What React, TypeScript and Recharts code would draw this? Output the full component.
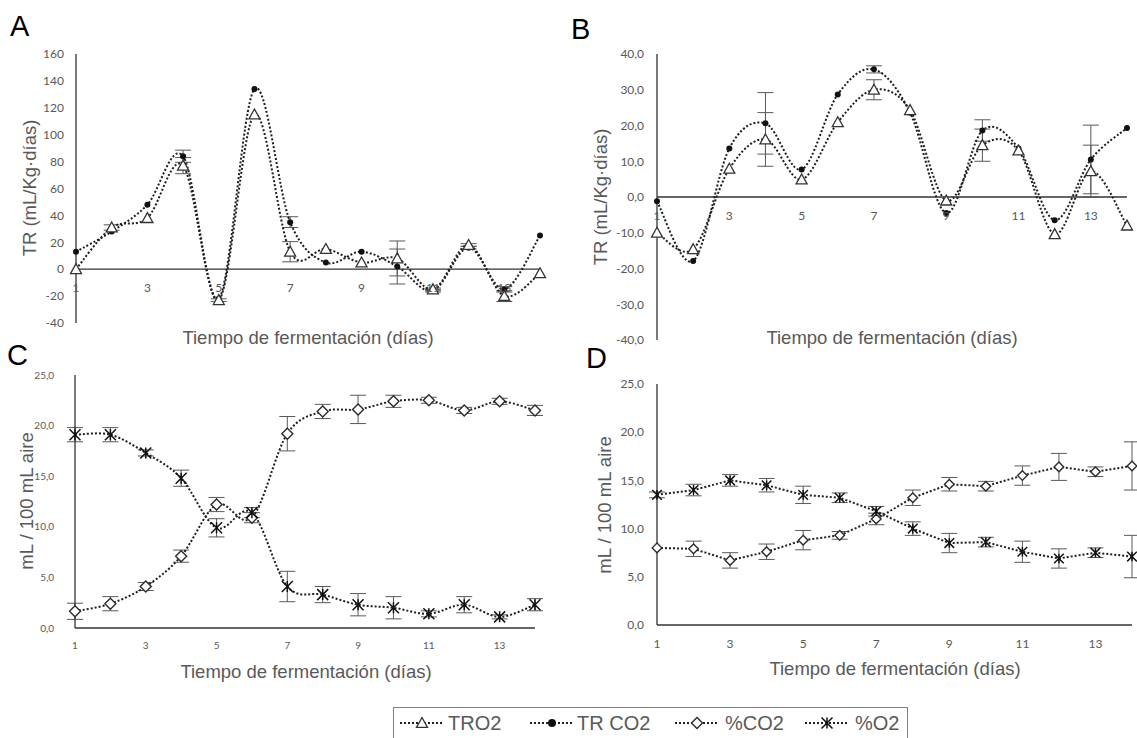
import React from "react";
import { LineChart, Line, XAxis, YAxis, ErrorBar, ReferenceLine, ReferenceDot } from "recharts";

const days = [1, 2, 3, 4, 5, 6, 7, 8, 9, 10, 11, 12, 13, 14];
const oddDays = [1, 3, 5, 7, 9, 11, 13];

// A: respiration rate, sample 1
const aTro2 = [0, 31, 38, 77, -23, 115, 13, 15, 5, 8, -15, 18, -20, -3];
const aTro2Err = [0, 2, 0, 6, 1, 0, 7.5, 0, 0, 13, 1, 1, 4, 0];
const aTrCo2 = [13, 28, 48, 84, -22, 134, 35, 5, 13, 2, -16, 16, -15, 25];
const aTrCo2Err = [0, 0, 0, 4.5, 0, 0, 4, 0, 0, 13, 1, 1, 2, 0];
const aTicks = [-40, -20, 0, 20, 40, 60, 80, 100, 120, 140, 160];

// B: respiration rate, sample 2
const bTro2 = [-10, -14.6, 7.9, 16.1, 4.9, 20.9, 30, 24.3, -1, 14.5, 13, -10.4, 7.2, -8];
const bTro2Err = [0, 0, 0, 7.5, 0, 0, 2.8, 0, 0, 4.5, 0, 0, 7.3, 0];
const bTrCo2 = [-1.2, -17.9, 13.6, 20.6, 7.7, 28.7, 35.7, 23.6, -4.5, 18.6, 13.6, -6.5, 10.5, 19.3];
const bTrCo2Err = [0, 0, 0, 8.6, 0, 0, 1, 0, 0, 3, 0, 0, 9.6, 0];
const bTicks = [-40, -30, -20, -10, 0, 10, 20, 30, 40];

// C: headspace gas, sample 1
const cCo2 = [1.65, 2.4, 4.1, 7.1, 12.2, 10.9, 19.2, 21.4, 21.6, 22.4, 22.5, 21.5, 22.4, 21.5];
const cCo2Err = [0.8, 0.7, 0.4, 0.6, 0.7, 0.5, 1.7, 0.7, 1.4, 0.6, 0.3, 0.3, 0.3, 0.5];
const cO2 = [19.1, 19.1, 17.3, 14.8, 9.9, 11.4, 4.1, 3.3, 2.3, 2.0, 1.4, 2.3, 1.1, 2.3];
const cO2Err = [0.7, 0.7, 0.3, 0.8, 0.9, 0.5, 1.5, 0.8, 1.1, 1.1, 0.3, 0.8, 0.2, 0.6];

// D: headspace gas, sample 2
const dCo2 = [8.0, 7.9, 6.7, 7.6, 8.8, 9.3, 11.0, 13.2, 14.6, 14.4, 15.5, 16.4, 15.9, 16.5];
const dCo2Err = [0, 0.8, 0.8, 0.8, 1.0, 0.4, 0.6, 0.8, 0.7, 0.5, 1.0, 1.4, 0.5, 2.5];
const dO2 = [13.5, 14.0, 15.0, 14.5, 13.5, 13.2, 11.8, 10.0, 8.5, 8.6, 7.6, 6.9, 7.5, 7.1];
const dO2Err = [0.3, 0.6, 0.6, 0.7, 0.9, 0.5, 0.5, 0.7, 1.0, 0.5, 1.1, 1.0, 0.5, 2.2];
const gasTicks = [0, 5, 10, 15, 20, 25];

const INK = "#1f1f1f";
const GREY = "#595959";
const TICK_FONT = "Lato, 'Open Sans', sans-serif";
const TITLE_FONT = "'Liberation Sans', Arial, sans-serif";

const comma = (v: number) => v.toFixed(1).replace(".", ",");

// Excel-style smoothed line (cardinal spline through the points)
const excelSmooth = (context: any) => {
  let pts: number[][] = [];
  return {
    areaStart() {},
    areaEnd() {},
    lineStart() {
      pts = [];
    },
    point(x: number, y: number) {
      pts.push([+x, +y]);
    },
    lineEnd() {
      if (!pts.length) return;
      context.moveTo(pts[0][0], pts[0][1]);
      for (let i = 0; i < pts.length - 1; i++) {
        const p0 = pts[i - 1] || pts[i];
        const p1 = pts[i];
        const p2 = pts[i + 1];
        const p3 = pts[i + 2] || p2;
        context.bezierCurveTo(
          p1[0] + (p2[0] - p0[0]) / 6,
          p1[1] + (p2[1] - p0[1]) / 6,
          p2[0] - (p3[0] - p1[0]) / 6,
          p2[1] - (p3[1] - p1[1]) / 6,
          p2[0],
          p2[1]
        );
      }
    },
  };
};

function TriangleDot(props: any) {
  const { cx, cy, s = 5.5 } = props;
  if (cx == null || cy == null) return null;
  return (
    <path
      d={`M${cx},${cy - s}L${cx + s},${cy + s * 0.8}L${cx - s},${cy + s * 0.8}Z`}
      fill="#fff"
      stroke="#333"
      strokeWidth={1.3}
    />
  );
}

function CircleDot(props: any) {
  const { cx, cy, r = 4 } = props;
  if (cx == null || cy == null) return null;
  return <circle cx={cx} cy={cy} r={r} fill="#111" />;
}

function DiamondDot(props: any) {
  const { cx, cy, s = 5.5 } = props;
  if (cx == null || cy == null) return null;
  return (
    <path
      d={`M${cx},${cy - s}L${cx + s},${cy}L${cx},${cy + s}L${cx - s},${cy}Z`}
      fill="#fff"
      stroke="#2b2b2b"
      strokeWidth={1.4}
    />
  );
}

function StarDot(props: any) {
  const { cx, cy, s = 5.5 } = props;
  if (cx == null || cy == null) return null;
  return (
    <path
      d={`M${cx - s},${cy - s}L${cx + s},${cy + s}M${cx + s},${cy - s}L${cx - s},${cy + s}M${cx},${cy - s}L${cx},${cy + s}`}
      stroke="#111"
      strokeWidth={1.5}
      fill="none"
    />
  );
}

const dotted = { stroke: INK, strokeWidth: 2, strokeDasharray: "2 2" };

interface TrProps {
  tro2: number[];
  tro2Err: number[];
  trCo2: number[];
  trCo2Err: number[];
  domain: [number, number];
  ticks: number[];
  fmt?: (v: number) => string;
  width: number;
  height: number;
  margin: { top: number; right: number; bottom: number; left: number };
  tickMargin: number;
}

function TrChart(p: TrProps) {
  const rows = days.map((d, i) => ({
    day: d,
    tro2: p.tro2[i],
    tro2Err: p.tro2Err[i],
    trCo2: p.trCo2[i],
    trCo2Err: p.trCo2Err[i],
  }));
  return (
    <LineChart width={p.width} height={p.height} data={rows} margin={p.margin}>
      <XAxis dataKey="day" type="number" domain={[1, 14]} hide />
      <YAxis
        type="number"
        domain={p.domain}
        ticks={p.ticks}
        interval={0}
        width={40}
        tickFormatter={p.fmt}
        axisLine={{ stroke: "#333", strokeWidth: 1.3 }}
        tickLine={false}
        tickMargin={p.tickMargin}
        tick={{ fill: GREY, fontSize: 12, fontFamily: TICK_FONT }}
      />
      <ReferenceLine y={0} stroke="#333" strokeWidth={1.3} />
      {oddDays.map((d) => (
        <ReferenceDot
          key={d}
          x={d}
          y={0}
          r={0}
          fill="none"
          stroke="none"
          label={{ value: String(d), position: "bottom", offset: 14, fill: GREY, fontSize: 12, fontFamily: TICK_FONT }}
        />
      ))}
      <Line dataKey="trCo2" type={excelSmooth as any} {...dotted} dot={<CircleDot />} activeDot={false} isAnimationActive={false}>
        <ErrorBar dataKey="trCo2Err" width={8} stroke={GREY} strokeWidth={1} direction="y" />
      </Line>
      <Line dataKey="tro2" type={excelSmooth as any} {...dotted} dot={<TriangleDot />} activeDot={false} isAnimationActive={false}>
        <ErrorBar dataKey="tro2Err" width={8} stroke={GREY} strokeWidth={1} direction="y" />
      </Line>
    </LineChart>
  );
}

interface GasProps {
  co2: number[];
  co2Err: number[];
  o2: number[];
  o2Err: number[];
  width: number;
  height: number;
  margin: { top: number; right: number; bottom: number; left: number };
  tickMargin: number;
  fontSize: number;
  smooth: boolean;
  markSize: number;
}

function GasChart(p: GasProps) {
  const rows = days.map((d, i) => ({
    day: d,
    co2: p.co2[i],
    co2Err: p.co2Err[i],
    o2: p.o2[i],
    o2Err: p.o2Err[i],
  }));
  const curve = p.smooth ? (excelSmooth as any) : "linear";
  return (
    <LineChart width={p.width} height={p.height} data={rows} margin={p.margin}>
      <XAxis
        dataKey="day"
        type="number"
        domain={[1, 14]}
        ticks={oddDays}
        interval={0}
        height={30}
        axisLine={{ stroke: "#333", strokeWidth: 1.3 }}
        tickLine={false}
        tickMargin={8}
        tick={{ fill: GREY, fontSize: p.fontSize, fontFamily: TICK_FONT }}
      />
      <YAxis
        type="number"
        domain={[0, 25]}
        ticks={gasTicks}
        interval={0}
        width={40}
        tickFormatter={comma}
        axisLine={{ stroke: "#333", strokeWidth: 1.3 }}
        tickLine={false}
        tickMargin={p.tickMargin}
        tick={{ fill: GREY, fontSize: p.fontSize, fontFamily: TICK_FONT }}
      />
      <Line dataKey="co2" type={curve} {...dotted} dot={<DiamondDot s={p.markSize} />} activeDot={false} isAnimationActive={false}>
        <ErrorBar dataKey="co2Err" width={8} stroke={GREY} strokeWidth={1} direction="y" />
      </Line>
      <Line dataKey="o2" type={curve} {...dotted} dot={<StarDot s={p.markSize} />} activeDot={false} isAnimationActive={false}>
        <ErrorBar dataKey="o2Err" width={8} stroke={GREY} strokeWidth={1} direction="y" />
      </Line>
    </LineChart>
  );
}

const legendItems = [
  { name: "TRO2", cx: 422, tx: 448, Mark: TriangleDot },
  { name: "TR CO2", cx: 552, tx: 577, Mark: CircleDot },
  { name: "%CO2", cx: 697, tx: 725, Mark: DiamondDot },
  { name: "%O2", cx: 827, tx: 855, Mark: StarDot },
];

const xTitle = "Tiempo de fermentación (días)";

export default function App() {
  const abs = (left: number, top: number): React.CSSProperties => ({ position: "absolute", left, top });
  const titleStyle = { fontFamily: TITLE_FONT, fontSize: 18.5, fill: GREY };
  return (
    <div style={{ position: "fixed", left: 0, top: 0, width: 1137, height: 738, background: "#fff", overflow: "hidden" }}>
      <div style={abs(0, 0)}>
        <TrChart
          tro2={aTro2}
          tro2Err={aTro2Err}
          trCo2={aTrCo2}
          trCo2Err={aTrCo2Err}
          domain={[-40, 160]}
          ticks={aTicks}
          width={560}
          height={340}
          margin={{ top: 54, right: 20, bottom: 17, left: 36 }}
          tickMargin={6}
        />
      </div>
      <div style={abs(560, 0)}>
        <TrChart
          tro2={bTro2}
          tro2Err={bTro2Err}
          trCo2={bTrCo2}
          trCo2Err={bTrCo2Err}
          domain={[-40, 40]}
          ticks={bTicks}
          fmt={comma}
          width={577}
          height={352}
          margin={{ top: 54, right: 10, bottom: 12, left: 57 }}
          tickMargin={7}
        />
      </div>
      <div style={abs(0, 345)}>
        <GasChart
          co2={cCo2}
          co2Err={cCo2Err}
          o2={cO2}
          o2Err={cO2Err}
          width={560}
          height={355}
          margin={{ top: 30, right: 25, bottom: 42, left: 35 }}
          tickMargin={15}
          fontSize={10}
          smooth={true}
          markSize={5.5}
        />
      </div>
      <div style={abs(560, 352)}>
        <GasChart
          co2={dCo2}
          co2Err={dCo2Err}
          o2={dO2}
          o2Err={dO2Err}
          width={577}
          height={348}
          margin={{ top: 32, right: 5, bottom: 45, left: 57 }}
          tickMargin={7}
          fontSize={12}
          smooth={false}
          markSize={4.8}
        />
      </div>

      <svg width={1137} height={738} style={{ position: "absolute", left: 0, top: 0, pointerEvents: "none" }}>
        <g fontFamily={TITLE_FONT} fontSize={29} fill="#000">
          <text x={10} y={36}>A</text>
          <text x={571} y={39}>B</text>
          <text x={7} y={365}>C</text>
          <text x={586} y={368}>D</text>
        </g>
        <g {...titleStyle} textAnchor="middle" dominantBaseline="central">
          <text transform="translate(29,188) rotate(-90)">TR (mL/Kg·días)</text>
          <text transform="translate(600,197) rotate(-90)">TR (mL/Kg·días)</text>
          <text transform="translate(26,501) rotate(-90)">mL / 100 mL aire</text>
          <text transform="translate(604,505) rotate(-90)">mL / 100 mL aire</text>
          <text x={308} y={337}>{xTitle}</text>
          <text x={892} y={337}>{xTitle}</text>
          <text x={306} y={671}>{xTitle}</text>
          <text x={895} y={668}>{xTitle}</text>
        </g>
        <rect x={393.5} y={707.5} width={514} height={40} fill="none" stroke="#7f7f7f" strokeWidth={1} />
        {legendItems.map(({ name, cx, tx, Mark }) => (
          <g key={name}>
            <line x1={cx - 22} x2={cx + 22} y1={723} y2={723} {...dotted} strokeWidth={1.8} />
            <Mark cx={cx} cy={723} />
            <text x={tx} y={730} fontFamily={TITLE_FONT} fontSize={20} fill={GREY}>
              {name}
            </text>
          </g>
        ))}
      </svg>
    </div>
  );
}
